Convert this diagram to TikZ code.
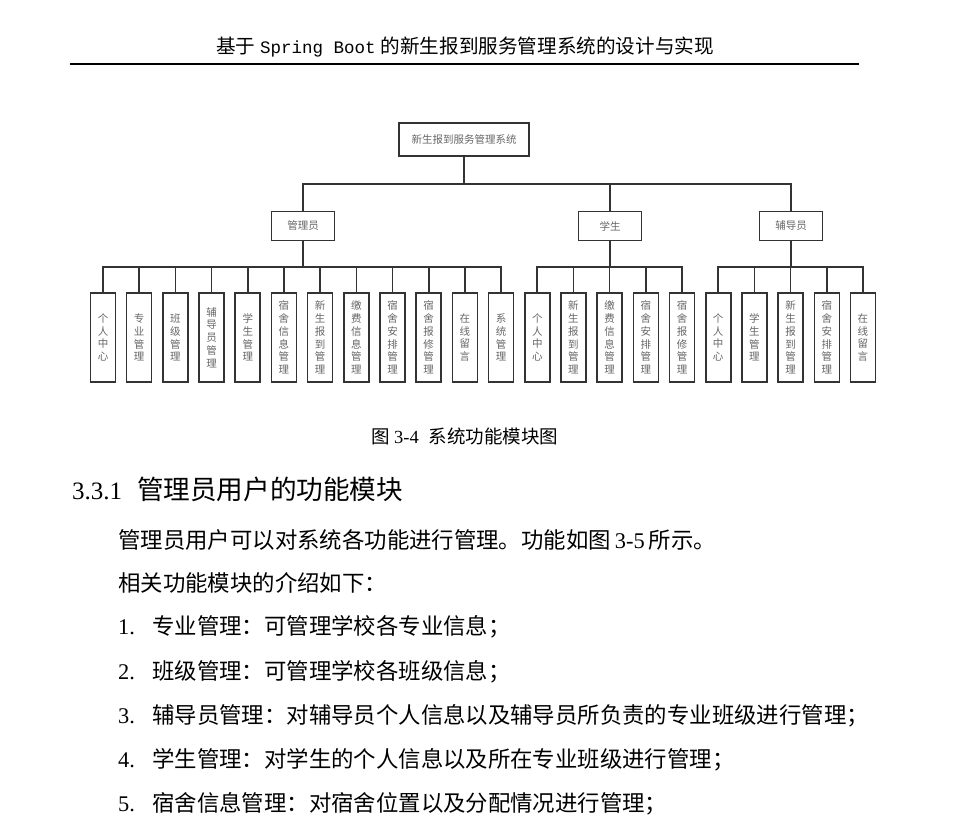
\documentclass[tikz,border=0pt]{standalone}
\usepackage{fontspec}
\setmainfont{Liberation Serif}
\newfontfamily\zh{Noto Sans CJK SC}
\newfontfamily\hmono{Liberation Mono}
\usetikzlibrary{positioning}
\definecolor{edge}{HTML}{333333}
\definecolor{lbl}{HTML}{666666}

\begin{document}
\begin{tikzpicture}[x=1pt,y=-1pt,node distance=11.19pt,
box/.style={draw=edge,line width=1.6pt,outer sep=0pt,inner sep=0pt,text=lbl,font=\fontsize{10.5}{12.8}\selectfont\zh},
leaf/.style={box,minimum width=25pt,minimum height=89pt,align=center},
mid/.style={box,minimum width=63pt,minimum height=29pt},
ln/.style={draw=edge,line width=1.6pt},
body/.style={anchor=west,inner sep=0pt,font=\fontsize{22.4}{26}\selectfont}]
\useasboundingbox (0,0) rectangle (959,837);
% page header
\node (hdr) at (465,47) {\fontsize{19.6}{22}\selectfont{\zh 基于}\hspace{5pt}{\hmono\fontsize{17.5}{20}\selectfont Spring Boot}\hspace{5pt}{\zh 的新生报到服务管理系统的设计与实现}};
\draw[line width=1.2pt] (70,64) -- (859,64);
% top levels
\node[box,minimum width=130pt,minimum height=33pt](sys) at (464,139.5){新生报到服务管理系统};
\node[mid](adm) at (303,226){管理员};
\node[mid](stu) at (610,226){学生};
\node[mid](fdy) at (791,226){辅导员};
% leaves
\node[leaf](a1) at (103,337.5){个\\人\\中\\心};
\node[leaf,right=of a1](a2){专\\业\\管\\理};
\node[leaf,right=of a2](a3){班\\级\\管\\理};
\node[leaf,right=of a3](a4){辅\\导\\员\\管\\理};
\node[leaf,right=of a4](a5){学\\生\\管\\理};
\node[leaf,right=of a5](a6){宿\\舍\\信\\息\\管\\理};
\node[leaf,right=of a6](a7){新\\生\\报\\到\\管\\理};
\node[leaf,right=of a7](a8){缴\\费\\信\\息\\管\\理};
\node[leaf,right=of a8](a9){宿\\舍\\安\\排\\管\\理};
\node[leaf,right=of a9](a10){宿\\舍\\报\\修\\管\\理};
\node[leaf,right=of a10](a11){在\\线\\留\\言};
\node[leaf,right=of a11](a12){系\\统\\管\\理};
\node[leaf,right=of a12](s1){个\\人\\中\\心};
\node[leaf,right=of s1](s2){新\\生\\报\\到\\管\\理};
\node[leaf,right=of s2](s3){缴\\费\\信\\息\\管\\理};
\node[leaf,right=of s3](s4){宿\\舍\\安\\排\\管\\理};
\node[leaf,right=of s4](s5){宿\\舍\\报\\修\\管\\理};
\node[leaf,right=of s5](f1){个\\人\\中\\心};
\node[leaf,right=of f1](f2){学\\生\\管\\理};
\node[leaf,right=of f2](f3){新\\生\\报\\到\\管\\理};
\node[leaf,right=of f3](f4){宿\\舍\\安\\排\\管\\理};
\node[leaf,right=of f4](f5){在\\线\\留\\言};
% connectors
\coordinate (bus0) at (sys.south|-0,184);
\draw[ln](sys.south)--(bus0);\draw[ln](bus0)-|(adm.north);\draw[ln](bus0)-|(stu.north);\draw[ln](bus0)-|(fdy.north);
\coordinate (busA) at (adm.south|-0,267);
\coordinate (busS) at (stu.south|-0,267);
\coordinate (busF) at (fdy.south|-0,267);
\draw[ln](adm.south)--(busA);\draw[ln](stu.south)--(busS);\draw[ln](fdy.south)--(busF);
\foreach \n in {a1,a2,a3,a4,a5,a6,a7,a8,a9,a10,a11,a12}{\draw[ln](busA)-|(\n.north);}
\foreach \n in {s1,s2,s3,s4,s5}{\draw[ln](busS)-|(\n.north);}
\foreach \n in {f1,f2,f3,f4,f5}{\draw[ln](busF)-|(\n.north);}
% caption and text
\node (cap) at (465,436) {\fontsize{18.5}{22}\selectfont{\zh 图}\hspace{4pt}3-4\hspace{10pt}{\zh 系统功能模块图}};
\node[anchor=west,inner sep=0pt] (sec) at (72,489) {\fontsize{25}{30}\selectfont 3.3.1\hspace{15pt}{\zh\fontsize{26.6}{30}\selectfont 管理员用户的功能模块}};
\node[body] (p1) at (118,540) {{\zh 管理员用户可以对系统各功能进行管理。功能如图}\hspace{4pt}3-5\hspace{4pt}{\zh 所示。}};
\node[body] (p2) at (118,583) {\zh 相关功能模块的介绍如下：};
\node[body] (i1) at (118,627) {\makebox[34pt][l]{1.}{\zh 专业管理：可管理学校各专业信息；}};
\node[body] (i2) at (118,672) {\makebox[34pt][l]{2.}{\zh 班级管理：可管理学校各班级信息；}};
\node[body] (i3) at (118,716) {\makebox[34pt][l]{3.}{\zh 辅导员管理：对辅导员个人信息以及辅导员所负责的专业班级进行管理；}};
\node[body] (i4) at (118,760) {\makebox[34pt][l]{4.}{\zh 学生管理：对学生的个人信息以及所在专业班级进行管理；}};
\node[body] (i5) at (118,804) {\makebox[34pt][l]{5.}{\zh 宿舍信息管理：对宿舍位置以及分配情况进行管理；}};
\end{tikzpicture}
\end{document}
